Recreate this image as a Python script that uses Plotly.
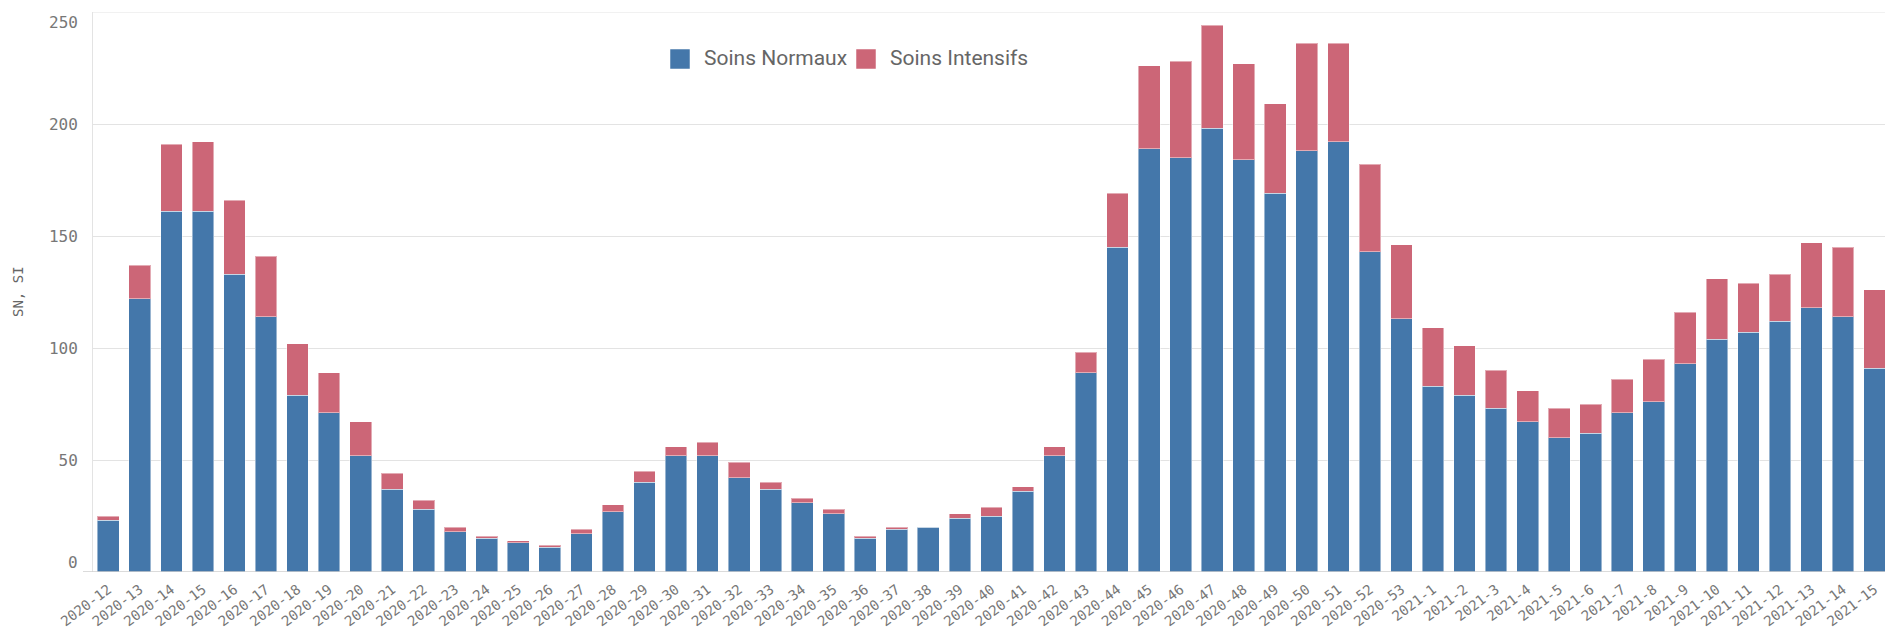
import plotly.graph_objects as go

weeks = ["2020-%d" % w for w in range(12, 54)] + ["2021-%d" % w for w in range(1, 16)]

soins_normaux = [23, 122, 161, 161, 133, 114, 79, 71, 52, 37,
                 28, 18, 15, 13, 11, 17, 27, 40, 52, 52,
                 42, 37, 31, 26, 15, 19, 20, 24, 25, 36,
                 52, 89, 145, 189, 185, 198, 184, 169, 188, 192,
                 143, 113, 83, 79, 73, 67, 60, 62, 71, 76,
                 93, 104, 107, 112, 118, 114, 91]

totals = [25, 137, 191, 192, 166, 141, 102, 89, 67, 44,
          32, 20, 16, 14, 12, 19, 30, 45, 56, 58,
          49, 40, 33, 28, 16, 20, 20, 26, 29, 38,
          56, 98, 169, 226, 228, 244, 227, 209, 236, 236,
          182, 146, 109, 101, 90, 81, 73, 75, 86, 95,
          116, 131, 129, 133, 147, 145, 126]

soins_intensifs = [t - n for t, n in zip(totals, soins_normaux)]

y_ticks = [0, 50, 100, 150, 200, 250]
series_names = ["Soins Normaux", "Soins Intensifs"]
series_colors = ["#4477aa", "#cc6677"]

W, H = 1885, 629
L, R, T, B = 93, 0, 12, 57
PW, PH = W - L - R, H - T - B

def px(x):
    return (x - L) / PW

def py(y):
    return (H - B - y) / PH

mono = "DejaVu Sans Mono"
tick_color = "#777777"
grid_color = "#e3e3e3"
ytick_size = 16
xtick_size = 14

fig = go.Figure()
for name, vals, col in zip(series_names, [soins_normaux, soins_intensifs], series_colors):
    fig.add_trace(go.Bar(
        x=weeks, y=vals, name=name,
        marker=dict(color=col, line=dict(color="rgba(255,255,255,0.45)", width=1)),
        showlegend=False,
    ))

annotations = []
shapes = []
annotations.append(dict(xref="paper", yref="y", x=px(80), y=y_ticks[-1], text=str(y_ticks[-1]),
                        xanchor="right", yanchor="middle", yshift=-10, showarrow=False,
                        font=dict(family=mono, size=ytick_size, color=tick_color)))
annotations.append(dict(xref="paper", yref="y", x=px(80), y=y_ticks[0], text=str(y_ticks[0]),
                        xanchor="right", yanchor="middle", yshift=10, showarrow=False,
                        font=dict(family=mono, size=ytick_size, color=tick_color)))
annotations.append(dict(xref="paper", yref="paper", x=px(18), y=0.5, text="SN, SI", textangle=-90,
                        xanchor="center", yanchor="middle", showarrow=False,
                        font=dict(family=mono, size=14, color="#666666")))
leg_x = [670, 856]
for name, col, x0 in zip(series_names, series_colors, leg_x):
    shapes.append(dict(type="rect", xref="paper", yref="paper",
                       x0=px(x0), x1=px(x0 + 20), y0=py(69), y1=py(49),
                       fillcolor=col, line=dict(color="rgba(255,255,255,0.5)", width=1)))
    annotations.append(dict(xref="paper", yref="paper", x=px(x0 + 32), y=py(58), text=name,
                            xanchor="left", yanchor="middle", showarrow=False,
                            font=dict(family="Roboto", size=21, color="#666666")))
shapes.append(dict(type="line", xref="paper", yref="y", x0=px(83), x1=1, y0=0, y1=0,
                   line=dict(color="#cfcfcf", width=1.5)))
shapes.append(dict(type="line", xref="paper", yref="y", x0=0, x1=1, y0=250, y1=250,
                   line=dict(color=grid_color, width=1)))

fig.update_layout(
    width=W, height=H,
    margin=dict(l=L, r=R, t=T, b=B, pad=0),
    paper_bgcolor="white", plot_bgcolor="white",
    barmode="stack", bargap=0.31,
    annotations=annotations, shapes=shapes,
    xaxis=dict(type="category", range=[-0.485, 56.33], tickangle=-37, ticks="outside", ticklen=3,
               tickcolor="rgba(0,0,0,0)", showgrid=False, showline=False, zeroline=False,
               automargin=False,
               tickfont=dict(family=mono, size=xtick_size, color=tick_color)),
    yaxis=dict(range=[0, 250], tickvals=y_ticks[1:-1], ticks="outside", ticklen=11,
               tickcolor="rgba(0,0,0,0)", showgrid=True, gridcolor=grid_color, gridwidth=1,
               showline=True, linecolor=grid_color, linewidth=1, mirror=False, zeroline=False,
               automargin=False,
               tickfont=dict(family=mono, size=ytick_size, color=tick_color)),
)

fig.write_html("out.html", config={"displayModeBar": False},
               post_script="document.body.style.margin='0';document.body.style.padding='0';document.body.style.overflow='hidden';")
